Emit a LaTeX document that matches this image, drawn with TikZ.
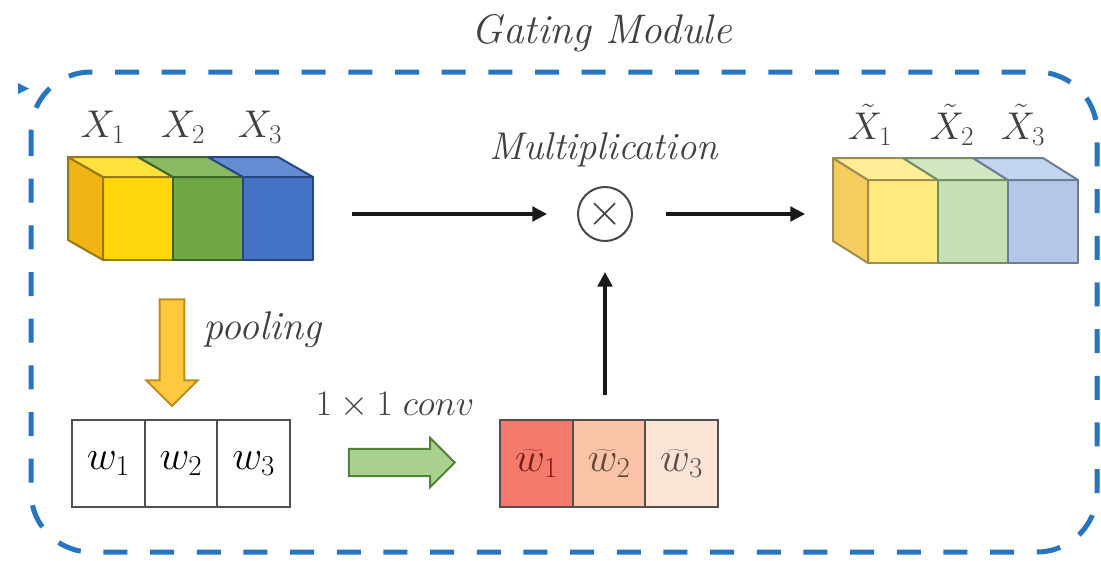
\RequirePackage{fix-cm}
\documentclass[tikz,border=0pt]{standalone}
\usetikzlibrary{arrows.meta,shapes.arrows}

\tikzset{every picture/.style={line width=0.75pt}}
\tikzset{
  lbl/.style={inner sep=0.75pt, text={rgb, 255:red, 64; green, 64; blue, 64}},
  face/.style={line width=1.5pt, line join=round},
  front/.style={face, inner sep=0pt, outer sep=0pt, minimum width=52.5pt, minimum height=62.25pt},
  cell/.style={draw={rgb, 255:red, 80; green, 80; blue, 80}, line width=1.5pt, inner sep=0pt, outer sep=0pt, minimum width=54.5pt, minimum height=65.25pt, font=\fontsize{31}{31}\selectfont},
  flow/.style={draw={rgb, 255:red, 25; green, 25; blue, 25}, line width=2.4pt, -{Triangle[length=11pt,width=11pt]}},
  blockarrow/.style={single arrow, line width=1.5pt, inner xsep=0pt, single arrow head extend=#1},
}

\begin{document}
\begin{tikzpicture}[x=0.75pt,y=0.75pt,yscale=-1,xscale=1]
\path [use as bounding box] (0,0) rectangle (1101,561);

%Shape: Rounded Rect
\draw [color={rgb, 255:red, 38; green, 117; blue, 190 }, line width=3.75pt, dash pattern=on 18pt off 17pt, rounded corners=45pt] (31,72) rectangle (1097,552);
%Shape: Triangle
\fill [color={rgb, 255:red, 38; green, 117; blue, 190 }] (18,83) -- (29,88.5) -- (18,94) -- cycle;

% Text Node
\node [lbl, font=\fontsize{31}{36}\selectfont] (title) at (602,33) {\textit{Gating Module}};

%Shape: Cube (input)
\node [front, draw={rgb, 255:red, 150; green, 120; blue, 20 }, fill={rgb, 255:red, 255; green, 215; blue, 10 }] (x1) at (138,218.5) {};
\node [front, draw={rgb, 255:red, 60; green, 100; blue, 40 }, fill={rgb, 255:red, 112; green, 168; blue, 70 }] (x2) at (208,218.5) {};
\node [front, draw={rgb, 255:red, 40; green, 70; blue, 130 }, fill={rgb, 255:red, 68; green, 114; blue, 196 }] (x3) at (278,218.5) {};
\draw [face, draw={rgb, 255:red, 150; green, 120; blue, 20 }, fill={rgb, 255:red, 240; green, 180; blue, 20 }] (x1.north west) -- ++(-35,-20) -- ++(0,83) -- (x1.south west) -- cycle ;
\draw [face, draw={rgb, 255:red, 150; green, 120; blue, 20 }, fill={rgb, 255:red, 255; green, 226; blue, 60 }] (x1.north west) -- (x1.north east) -- ++(-35,-20) -- ++(-70,0) -- cycle ;
\draw [face, draw={rgb, 255:red, 60; green, 100; blue, 40 }, fill={rgb, 255:red, 140; green, 185; blue, 100 }] (x2.north west) -- (x2.north east) -- ++(-35,-20) -- ++(-70,0) -- cycle ;
\draw [face, draw={rgb, 255:red, 40; green, 70; blue, 130 }, fill={rgb, 255:red, 100; green, 140; blue, 210 }] (x3.north west) -- (x3.north east) -- ++(-35,-20) -- ++(-70,0) -- cycle ;

% Text Node
\node [lbl, font=\fontsize{29}{34}\selectfont] (lx1) at (103,127) {$X_1$};
% Text Node
\node [lbl, font=\fontsize{29}{34}\selectfont] (lx2) at (183,127) {$X_2$};
% Text Node
\node [lbl, font=\fontsize{29}{34}\selectfont] (lx3) at (260,127) {$X_3$};

%Shape: Cube (output)
\node [front, draw={rgb, 255:red, 160; green, 140; blue, 80 }, fill={rgb, 255:red, 255; green, 235; blue, 125 }] (y1) at (903,221.5) {};
\node [front, draw={rgb, 255:red, 120; green, 140; blue, 100 }, fill={rgb, 255:red, 197; green, 224; blue, 180 }] (y2) at (973,221.5) {};
\node [front, draw={rgb, 255:red, 110; green, 125; blue, 150 }, fill={rgb, 255:red, 180; green, 199; blue, 231 }] (y3) at (1043,221.5) {};
\draw [face, draw={rgb, 255:red, 160; green, 140; blue, 80 }, fill={rgb, 255:red, 245; green, 205; blue, 95 }] (y1.north west) -- ++(-35,-22) -- ++(0,83) -- (y1.south west) -- cycle ;
\draw [face, draw={rgb, 255:red, 160; green, 140; blue, 80 }, fill={rgb, 255:red, 255; green, 238; blue, 150 }] (y1.north west) -- (y1.north east) -- ++(-35,-22) -- ++(-70,0) -- cycle ;
\draw [face, draw={rgb, 255:red, 120; green, 140; blue, 100 }, fill={rgb, 255:red, 210; green, 232; blue, 195 }] (y2.north west) -- (y2.north east) -- ++(-35,-22) -- ++(-70,0) -- cycle ;
\draw [face, draw={rgb, 255:red, 110; green, 125; blue, 150 }, fill={rgb, 255:red, 195; green, 212; blue, 238 }] (y3.north west) -- (y3.north east) -- ++(-35,-22) -- ++(-70,0) -- cycle ;

% Text Node
\node [lbl, font=\fontsize{29}{34}\selectfont] (ly1) at (870,125) {$\tilde{X}_1$};
% Text Node
\node [lbl, font=\fontsize{29}{34}\selectfont] (ly2) at (952,125) {$\tilde{X}_2$};
% Text Node
\node [lbl, font=\fontsize{29}{34}\selectfont] (ly3) at (1023,125) {$\tilde{X}_3$};

%Shape: Circle
\node [circle, draw={rgb, 255:red, 70; green, 70; blue, 70 }, line width=1.5pt, minimum size=40.5pt, inner sep=0pt, text={rgb, 255:red, 64; green, 64; blue, 64 }, font=\fontsize{34}{34}\selectfont] (mult) at (605,214) {$\times$};
% Text Node
\node [lbl, font=\fontsize{29}{34}\selectfont] (lmult) at (604,150) {\textit{Multiplication}};

%Shape: Boxes (weights)
\node [cell] (w1) at (108.3,463.5) {$w_1$};
\node [cell] (w2) at (181,463.5) {$w_2$};
\node [cell] (w3) at (253.7,463.5) {$w_3$};

%Shape: Boxes (gates)
\node [cell, fill={rgb, 255:red, 244; green, 122; blue, 108 }, text={rgb, 255:red, 120; green, 30; blue, 30 }] (wt1) at (536.5,463.5) {$\widetilde{w}_1$};
\node [cell, fill={rgb, 255:red, 248; green, 195; blue, 166 }, text={rgb, 255:red, 100; green, 70; blue, 55 }] (wt2) at (609,463.5) {$\widetilde{w}_2$};
\node [cell, fill={rgb, 255:red, 251; green, 227; blue, 214 }, text={rgb, 255:red, 100; green, 75; blue, 65 }] (wt3) at (681.5,463.5) {$\widetilde{w}_3$};

%Shape: Block Arrows
\node [blockarrow=10pt, rotate=-90, inner ysep=8.6pt, minimum height=80pt, draw={rgb, 255:red, 190; green, 140; blue, 30 }, fill={rgb, 255:red, 255; green, 200; blue, 61 }] (pool) at (172,346.5) {};
\node [blockarrow=8.25pt, inner ysep=9.4pt, minimum height=79.5pt, draw={rgb, 255:red, 84; green, 130; blue, 53 }, fill={rgb, 255:red, 169; green, 209; blue, 142 }] (conv) at (395,462.5) {};

% Text Node
\node [lbl, font=\fontsize{30}{34}\selectfont] (lpool) at (263,330) {\textit{pooling}};
% Text Node
\node [lbl, font=\fontsize{27}{32}\selectfont] (lconv) at (395,405) {$1\times 1\;conv$};

%Straight Lines [arrows]
\draw [flow, shorten <=29.25pt, shorten >=22.5pt] (x3.east |- mult.west) -- (mult.west) ;
\draw [flow, shorten <=24.75pt, shorten >=47.25pt] (mult.east) -- (mult.east -| y1.west) ;
\draw [flow, shorten <=18.75pt, shorten >=22.5pt] (mult.south |- wt2.north) -- (mult.south) ;

\end{tikzpicture}
\end{document}
